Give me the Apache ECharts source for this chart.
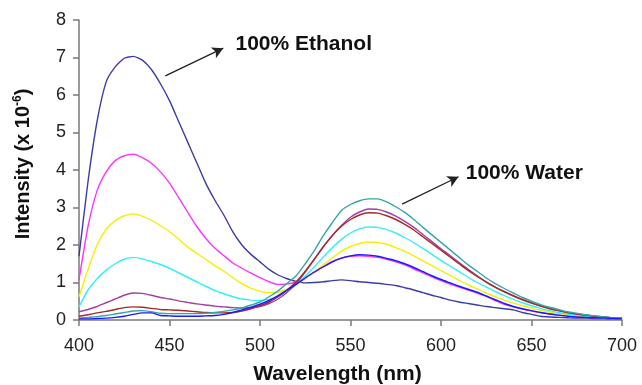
<!DOCTYPE html>
<html>
<head>
<meta charset="utf-8">
<script src="https://cdn.jsdelivr.net/npm/echarts@6/dist/echarts.min.js"></script>
<style>
  html, body { margin: 0; padding: 0; background: #fff; }
  #chart { width: 642px; height: 385px; }
</style>
</head>
<body>
<div id="chart"></div>
<script>
// wavelength grid, 400..700 nm every 5 nm
const wavelengths = [];
for (let w = 400; w <= 700; w += 5) wavelengths.push(w);

const xTicks = [400, 450, 500, 550, 600, 650, 700];
const yTicks = [0, 1, 2, 3, 4, 5, 6, 7, 8];

// intensity (x 10-6)
const ethanol100 = [1.7, 3.7, 5.3, 6.35, 6.75, 6.98, 7.03, 6.93, 6.68, 6.3, 5.85, 5.3, 4.75, 4.2, 3.65, 3.2, 2.8, 2.35, 2.0, 1.75,
  1.55, 1.35, 1.2, 1.1, 1.03, 0.99, 1.0, 1.02, 1.05, 1.07, 1.05, 1.02, 1.0, 0.98, 0.95, 0.92, 0.86, 0.8, 0.73, 0.66,
  0.6, 0.53, 0.48, 0.44, 0.4, 0.36, 0.33, 0.3, 0.27, 0.2, 0.15, 0.1, 0.08, 0.07, 0.06, 0.05, 0.05, 0.04, 0.04, 0.03, 0.03];
const magentaMix = [1.07, 2.5, 3.45, 3.95, 4.25, 4.38, 4.42, 4.33, 4.18, 3.95, 3.65, 3.27, 2.88, 2.5, 2.18, 1.92, 1.72, 1.52, 1.38, 1.25,
  1.13, 1.02, 0.95, 0.96, 1.02, 1.12, 1.27, 1.42, 1.56, 1.65, 1.7, 1.71, 1.7, 1.67, 1.62, 1.55, 1.47, 1.36, 1.26, 1.15,
  1.05, 0.96, 0.88, 0.8, 0.72, 0.63, 0.52, 0.42, 0.35, 0.29, 0.24, 0.2, 0.16, 0.13, 0.1, 0.08, 0.07, 0.06, 0.05, 0.04, 0.03];
const yellowMix = [0.62, 1.35, 2.0, 2.42, 2.65, 2.78, 2.83, 2.77, 2.66, 2.52, 2.36, 2.16, 1.95, 1.78, 1.62, 1.45, 1.3, 1.13, 0.97, 0.85,
  0.77, 0.73, 0.74, 0.82, 0.95, 1.1, 1.28, 1.47, 1.66, 1.83, 1.96, 2.04, 2.08, 2.07, 2.02, 1.93, 1.83, 1.71, 1.58, 1.45,
  1.32, 1.19, 1.06, 0.94, 0.83, 0.72, 0.62, 0.53, 0.45, 0.38, 0.32, 0.26, 0.21, 0.17, 0.14, 0.11, 0.09, 0.07, 0.05, 0.04, 0.04];
const cyanMix = [0.35, 0.8, 1.1, 1.33, 1.5, 1.62, 1.67, 1.63, 1.56, 1.48, 1.38, 1.26, 1.14, 1.02, 0.9, 0.79, 0.7, 0.62, 0.56, 0.53,
  0.52, 0.55, 0.63, 0.77, 0.95, 1.17, 1.42, 1.68, 1.93, 2.15, 2.32, 2.43, 2.48, 2.47, 2.41, 2.32, 2.2, 2.06, 1.91, 1.75,
  1.59, 1.44, 1.29, 1.14, 1.0, 0.88, 0.76, 0.65, 0.55, 0.46, 0.38, 0.31, 0.25, 0.2, 0.16, 0.13, 0.1, 0.08, 0.06, 0.05, 0.04];
const purpleMix = [0.22, 0.28, 0.36, 0.46, 0.56, 0.66, 0.72, 0.71, 0.66, 0.6, 0.56, 0.51, 0.47, 0.43, 0.4, 0.37, 0.35, 0.33, 0.32, 0.33,
  0.36, 0.44, 0.56, 0.74, 0.98, 1.28, 1.62, 1.96, 2.26, 2.52, 2.74, 2.88, 2.96, 2.95, 2.88, 2.77, 2.63, 2.47, 2.28, 2.09,
  1.9, 1.72, 1.53, 1.35, 1.18, 1.02, 0.88, 0.76, 0.65, 0.55, 0.46, 0.38, 0.31, 0.25, 0.2, 0.16, 0.13, 0.1, 0.08, 0.06, 0.05];
const brownMix = [0.1, 0.14, 0.19, 0.23, 0.28, 0.33, 0.35, 0.34, 0.31, 0.28, 0.27, 0.26, 0.24, 0.22, 0.2, 0.19, 0.19, 0.2, 0.24, 0.3,
  0.38, 0.48, 0.62, 0.8, 1.02, 1.3, 1.62, 1.95, 2.25, 2.5, 2.68, 2.8, 2.86, 2.85, 2.78, 2.68, 2.55, 2.4, 2.22, 2.04,
  1.86, 1.68, 1.5, 1.32, 1.16, 1.01, 0.87, 0.75, 0.64, 0.54, 0.45, 0.37, 0.3, 0.25, 0.2, 0.16, 0.13, 0.1, 0.08, 0.06, 0.05];
const blueMix = [0.03, 0.03, 0.04, 0.05, 0.07, 0.1, 0.15, 0.19, 0.19, 0.12, 0.11, 0.1, 0.1, 0.1, 0.11, 0.12, 0.15, 0.2, 0.27, 0.34,
  0.42, 0.52, 0.65, 0.8, 0.95, 1.12, 1.28, 1.42, 1.55, 1.65, 1.71, 1.74, 1.73, 1.7, 1.64, 1.58, 1.5, 1.4, 1.29, 1.18,
  1.08, 0.99, 0.9, 0.82, 0.74, 0.64, 0.54, 0.44, 0.36, 0.3, 0.25, 0.2, 0.16, 0.13, 0.1, 0.08, 0.07, 0.06, 0.05, 0.04, 0.03];
const water100 = [0.05, 0.07, 0.09, 0.12, 0.16, 0.2, 0.24, 0.25, 0.22, 0.18, 0.17, 0.17, 0.17, 0.17, 0.18, 0.2, 0.23, 0.27, 0.32, 0.4,
  0.48, 0.62, 0.78, 0.98, 1.18, 1.5, 1.85, 2.25, 2.6, 2.92, 3.08, 3.18, 3.23, 3.23, 3.15, 3.02, 2.87, 2.68, 2.47, 2.27,
  2.07, 1.87, 1.67, 1.47, 1.3, 1.12, 0.97, 0.84, 0.72, 0.6, 0.5, 0.41, 0.34, 0.28, 0.22, 0.18, 0.14, 0.11, 0.08, 0.06, 0.05];

const seriesList = [
  { name: 'ethanol100', color: '#3c3ca8', values: ethanol100 },
  { name: 'magenta', color: '#ff33ff', values: magentaMix },
  { name: 'yellow', color: '#f5ef00', values: yellowMix },
  { name: 'cyan', color: '#33f0f5', values: cyanMix },
  { name: 'purple', color: '#a040a0', values: purpleMix },
  { name: 'brown', color: '#a82828', values: brownMix },
  { name: 'water100', color: '#33a8a5', values: water100 },
  { name: 'blue', color: '#1a1aff', values: blueMix }
];

const FONT = "'Liberation Sans', Arial, sans-serif";

function arrowLine(from, to, text, pad) {
  return {
    silent: true,
    symbol: ['none', 'arrow'],
    symbolSize: [9, 11],
    animation: false,
    lineStyle: { color: '#222', width: 1.3, type: 'solid' },
    label: {
      show: true,
      position: 'end',
      distance: 8,
      formatter: text,
      color: '#111',
      fontFamily: FONT,
      fontWeight: 'bold',
      fontSize: 21,
      padding: pad
    },
    emphasis: { disabled: true },
    data: [[{ coord: from }, { coord: to }]]
  };
}

const myChart = echarts.init(document.getElementById('chart'), null, { renderer: 'canvas' });

myChart.setOption({
  animation: false,
  backgroundColor: '#fff',
  grid: {
    left: 79,
    right: 20,
    top: 20,
    bottom: 65,
    containLabel: false,
    outerBoundsMode: 'none'
  },
  xAxis: {
    type: 'value',
    min: xTicks[0],
    max: xTicks[xTicks.length - 1],
    interval: 50,
    name: 'Wavelength (nm)',
    nameLocation: 'middle',
    nameGap: 44,
    nameTextStyle: {
      color: '#111',
      fontFamily: FONT,
      fontWeight: 'bold',
      fontSize: 21,
      padding: [0, 26, 0, 0]
    },
    axisLine: { lineStyle: { color: '#7a7a7a', width: 1.5 } },
    axisTick: { show: true, length: 6, lineStyle: { color: '#7a7a7a', width: 1.5 } },
    axisLabel: { color: '#222', fontFamily: FONT, fontSize: 18, margin: 17 },
    splitLine: { show: false }
  },
  yAxis: {
    type: 'value',
    min: yTicks[0],
    max: yTicks[yTicks.length - 1],
    interval: 1,
    name: 'Intensity (x 10{sup|-6})',
    nameLocation: 'middle',
    nameGap: 45,
    nameTextStyle: {
      color: '#111',
      fontFamily: FONT,
      fontWeight: 'bold',
      fontSize: 20,
      padding: [0, 0, 0, 12],
      rich: {
        sup: {
          fontFamily: FONT,
          fontWeight: 'bold',
          fontSize: 12,
          color: '#111',
          verticalAlign: 'top',
          lineHeight: 22
        }
      }
    },
    axisLine: { show: true, lineStyle: { color: '#7a7a7a', width: 1.5 } },
    axisTick: { show: true, length: 6, lineStyle: { color: '#7a7a7a', width: 1.5 } },
    axisLabel: { color: '#222', fontFamily: FONT, fontSize: 18, margin: 13 },
    splitLine: { show: false }
  },
  series: seriesList.map(function (s) {
    const item = {
      name: s.name,
      type: 'line',
      showSymbol: false,
      smooth: 0.2,
      lineStyle: { color: s.color, width: 1.4 },
      itemStyle: { color: s.color },
      emphasis: { disabled: true },
      z: 2,
      data: wavelengths.map(function (w, i) { return [w, s.values[i]]; })
    };
    if (s.name === 'ethanol100') item.markLine = arrowLine([447.7, 6.51], [479.7, 7.25], '100% Ethanol', [8, 0, 0, 5]);
    if (s.name === 'water100') item.markLine = arrowLine([578.5, 3.09], [609.7, 3.82], '100% Water', [3, 0, 0, 0]);
    return item;
  })
});

window.addEventListener('resize', () => {
  myChart.resize();
});
</script>
</body>
</html>
